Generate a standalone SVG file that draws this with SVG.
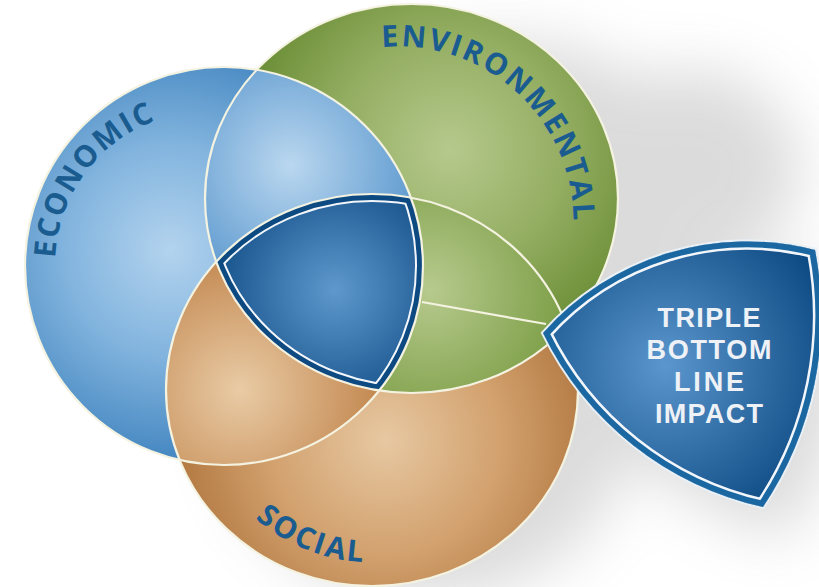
<svg xmlns="http://www.w3.org/2000/svg" width="819" height="587" viewBox="0 0 819 587">
<style>
.lbl{font-family:"Open Sans","Liberation Sans",sans-serif;font-weight:700;font-size:30px;fill:#1a5c8f}
.tbl{font-family:"Liberation Sans",Arial,sans-serif;font-weight:700;font-size:27px;fill:#eef2f6;text-anchor:middle}
.outline{fill:none;stroke:#f4f2e0;stroke-width:2.2}
</style>
<defs>
<radialGradient id="gBlue" gradientUnits="userSpaceOnUse" cx="170" cy="250" r="210">
<stop offset="0" stop-color="#b3d3ee"/><stop offset="0.5" stop-color="#82b4de"/><stop offset="1" stop-color="#4587c1"/></radialGradient>
<radialGradient id="gBlueGreen" gradientUnits="userSpaceOnUse" cx="290" cy="165" r="140">
<stop offset="0" stop-color="#bad7ef"/><stop offset="1" stop-color="#5896cd"/></radialGradient>
<radialGradient id="gGreen" gradientUnits="userSpaceOnUse" cx="450" cy="150" r="210">
<stop offset="0" stop-color="#b6c98d"/><stop offset="0.55" stop-color="#93ad61"/><stop offset="1" stop-color="#6c8e37"/></radialGradient>
<radialGradient id="gGreenBrown" gradientUnits="userSpaceOnUse" cx="430" cy="290" r="140">
<stop offset="0" stop-color="#b7ca8e"/><stop offset="1" stop-color="#7c9e46"/></radialGradient>
<radialGradient id="gBrown" gradientUnits="userSpaceOnUse" cx="385" cy="440" r="210">
<stop offset="0" stop-color="#e7c8a2"/><stop offset="0.55" stop-color="#d2a16e"/><stop offset="1" stop-color="#b27841"/></radialGradient>
<radialGradient id="gBrownBlue" gradientUnits="userSpaceOnUse" cx="240" cy="390" r="135">
<stop offset="0" stop-color="#e9cba5"/><stop offset="1" stop-color="#c48a53"/></radialGradient>
<radialGradient id="gCore" gradientUnits="userSpaceOnUse" cx="335" cy="290" r="135">
<stop offset="0" stop-color="#5e98cd"/><stop offset="1" stop-color="#0e4b83"/></radialGradient>
<radialGradient id="gShield" gradientUnits="userSpaceOnUse" cx="665" cy="365" r="175">
<stop offset="0" stop-color="#5b97ce"/><stop offset="1" stop-color="#0e4a83"/></radialGradient>
<filter id="blur" x="-50%" y="-50%" width="200%" height="200%"><feGaussianBlur stdDeviation="30"/></filter>
<clipPath id="cBlue"><circle cx="224" cy="266" r="199"/></clipPath>
<clipPath id="cGreen"><ellipse cx="411.5" cy="198.5" rx="206.5" ry="194.5"/></clipPath>
<clipPath id="cBrown"><ellipse cx="372" cy="390" rx="206" ry="196"/></clipPath>
<path id="shieldPath" d="M 543 333 A 273 273 0 0 1 815 250 A 343 343 0 0 1 763 507 A 323 323 0 0 1 543 333 Z"/>
<clipPath id="cShield"><use href="#shieldPath"/></clipPath>
<path id="pEco" d="M 55.15 258.2 A 154 154 0 0 1 236.9 113.4"/>
<path id="pEnv" d="M 382 47.2 A 175.5 175.5 0 0 1 562.9 282.4"/>
<path id="pSoc" d="M 255.3 518.4 A 177.5 177.5 0 0 0 460.25 538.9"/>
</defs>
<rect width="819" height="587" fill="#ffffff"/>
<g id="shadow" filter="url(#blur)" opacity="0.3">
<ellipse cx="510" cy="230" rx="210" ry="190" fill="#8a8a8a"/>
<ellipse cx="690" cy="170" rx="110" ry="100" fill="#8a8a8a"/>
<ellipse cx="430" cy="410" rx="205" ry="190" fill="#8a8a8a"/>
<use href="#shieldPath" transform="translate(25 30)" fill="#8a8a8a"/>
</g>
<g id="economic">
<circle cx="224" cy="266" r="199" fill="url(#gBlue)"/>
<text class="lbl"><textPath href="#pEco" textLength="180" lengthAdjust="spacing">ECONOMIC</textPath></text>
</g>
<g id="environmental">
<ellipse cx="411.5" cy="198.5" rx="206.5" ry="194.5" fill="url(#gGreen)"/>
<text class="lbl"><textPath href="#pEnv" textLength="290" lengthAdjust="spacing">ENVIRONMENTAL</textPath></text>
</g>
<g id="social">
<ellipse cx="372" cy="390" rx="206" ry="196" fill="url(#gBrown)"/>
<text class="lbl"><textPath href="#pSoc" textLength="118" lengthAdjust="spacing">SOCIAL</textPath></text>
</g>
<g id="overlaps">
<g clip-path="url(#cGreen)"><circle cx="224" cy="266" r="199" fill="url(#gBlueGreen)"/></g>
<g clip-path="url(#cBlue)"><ellipse cx="372" cy="390" rx="206" ry="196" fill="url(#gBrownBlue)"/></g>
<g clip-path="url(#cGreen)"><ellipse cx="372" cy="390" rx="206" ry="196" fill="url(#gGreenBrown)"/></g>
</g>
<g id="core">
<g clip-path="url(#cBlue)"><g clip-path="url(#cGreen)"><g clip-path="url(#cBrown)">
<rect x="150" y="150" width="320" height="280" fill="url(#gCore)"/>
<g fill="none" stroke="#f2f6fa" stroke-width="16">
<circle cx="224" cy="266" r="199"/><ellipse cx="411.5" cy="198.5" rx="206.5" ry="194.5"/><ellipse cx="372" cy="390" rx="206" ry="196"/>
</g>
<g fill="none" stroke="#0d4a82" stroke-width="12">
<circle cx="224" cy="266" r="199"/><ellipse cx="411.5" cy="198.5" rx="206.5" ry="194.5"/><ellipse cx="372" cy="390" rx="206" ry="196"/>
</g>
</g></g></g>
</g>
<g id="outlines">
<circle class="outline" cx="224" cy="266" r="199"/>
<ellipse class="outline" cx="411.5" cy="198.5" rx="206.5" ry="194.5"/>
<ellipse class="outline" cx="372" cy="390" rx="206" ry="196"/>
</g>
<g id="connectors">
<line x1="422" y1="302" x2="546" y2="324" stroke="#f4f2e0" stroke-width="2.2"/>
</g>
<g id="impact">
<use href="#shieldPath" fill="none" stroke="#e9f1f7" stroke-width="4"/>
<use href="#shieldPath" fill="url(#gShield)"/>
<g clip-path="url(#cShield)" fill="none">
<use href="#shieldPath" stroke="#f2f6fa" stroke-width="17"/>
<use href="#shieldPath" stroke="#1b67a2" stroke-width="12"/>
</g>
<text class="tbl" x="709" y="327" textLength="103" lengthAdjust="spacing">TRIPLE</text>
<text class="tbl" x="709" y="359" textLength="125" lengthAdjust="spacing">BOTTOM</text>
<text class="tbl" x="709" y="391" textLength="70" lengthAdjust="spacing">LINE</text>
<text class="tbl" x="709" y="423" textLength="108" lengthAdjust="spacing">IMPACT</text>
</g>
</svg>
